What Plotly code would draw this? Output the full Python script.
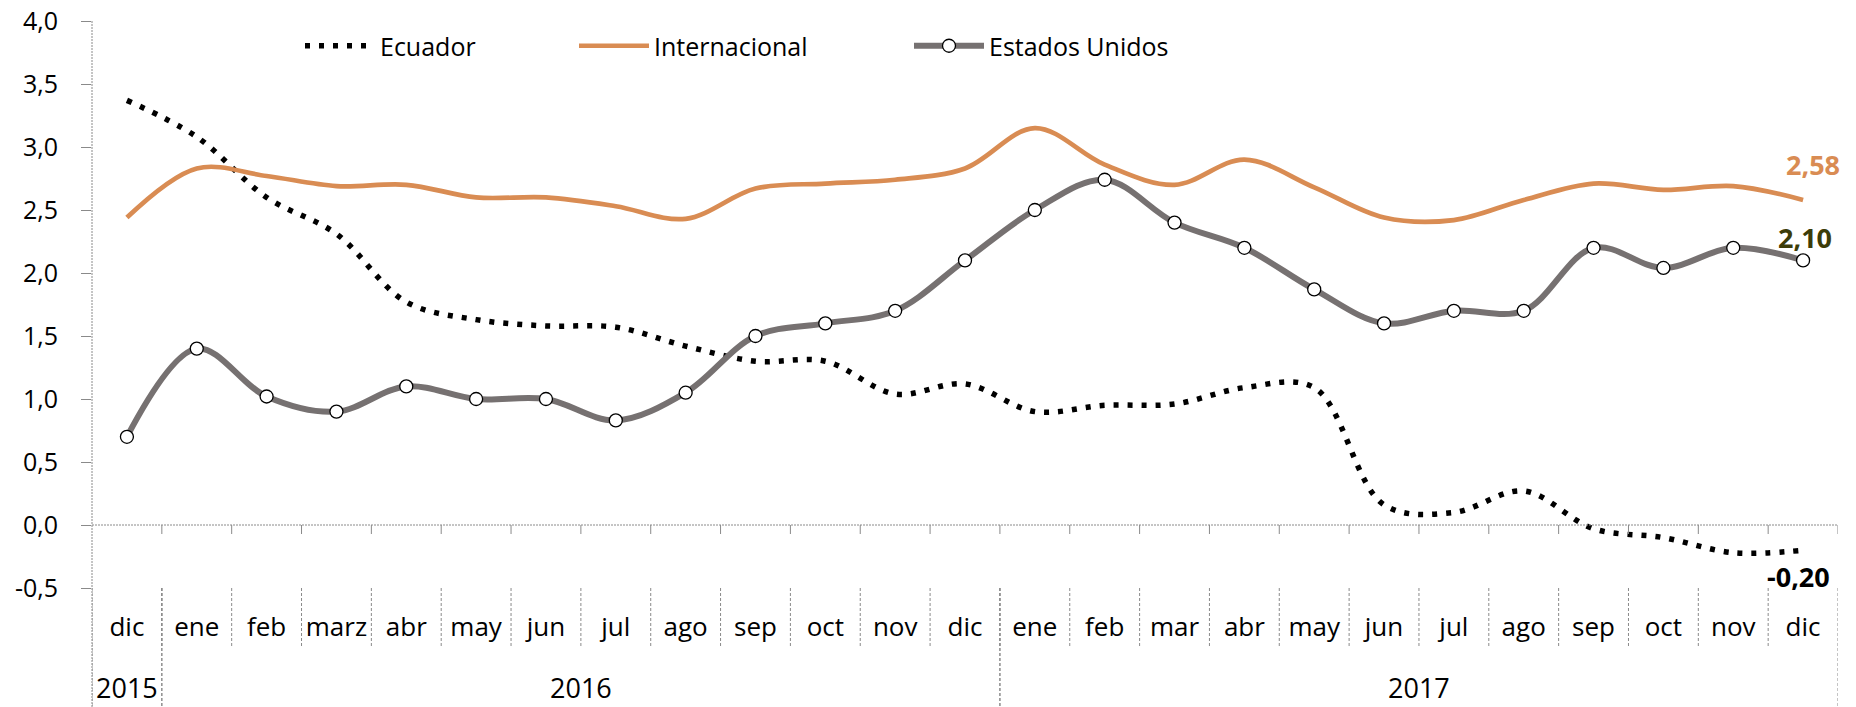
import plotly.graph_objects as go

# ---------------- data ----------------
months = ["dic", "ene", "feb", "marz", "abr", "may", "jun", "jul", "ago", "sep", "oct", "nov", "dic",
          "ene", "feb", "mar", "abr", "may", "jun", "jul", "ago", "sep", "oct", "nov", "dic"]
years = ["2015"] + ["2016"] * 12 + ["2017"] * 12

ecuador = [3.37, 3.08, 2.60, 2.31, 1.77, 1.63, 1.58, 1.57, 1.42, 1.30, 1.30, 1.04, 1.12,
           0.90, 0.95, 0.96, 1.09, 1.09, 0.16, 0.10, 0.27, -0.03, -0.10, -0.22, -0.20]
internacional = [2.44, 2.83, 2.77, 2.69, 2.70, 2.60, 2.60, 2.53, 2.43, 2.67, 2.71, 2.74, 2.83,
                 3.15, 2.86, 2.70, 2.90, 2.68, 2.44, 2.42, 2.58, 2.71, 2.66, 2.69, 2.58]
estados_unidos = [0.70, 1.40, 1.02, 0.90, 1.10, 1.00, 1.00, 0.83, 1.05, 1.50, 1.60, 1.70, 2.10,
                  2.50, 2.74, 2.40, 2.20, 1.87, 1.60, 1.70, 1.70, 2.20, 2.04, 2.20, 2.10]

y_tickvals = [-0.5, 0.0, 0.5, 1.0, 1.5, 2.0, 2.5, 3.0, 3.5, 4.0]
y_ticktext = ["-0,5", "0,0", "0,5", "1,0", "1,5", "2,0", "2,5", "3,0", "3,5", "4,0"]

# ---------------- style ----------------
ORANGE = "#D98C53"
GRAY = "#767171"
OLIVE = "#3C3C08"
AXIS = "#8A8A8A"
FONT = "Open Sans"

W, H = 1856, 707
L, R, T, B = 92, 18, 21, 119
plot_h = H - T - B
plot_w = W - L - R
ITEM_W = 70

n = len(months)
x_idx = list(range(n))


def fmt(v):
    return f"{v:.2f}".replace(".", ",")


fig = go.Figure()
fig.add_trace(go.Scatter(
    x=x_idx, y=ecuador, name="Ecuador", mode="lines", legend="legend",
    line=dict(color="black", width=5.5, dash="5px,9px", shape="spline", smoothing=1)))
fig.add_trace(go.Scatter(
    x=x_idx, y=internacional, name="Internacional", mode="lines", legend="legend2",
    line=dict(color=ORANGE, width=4.7, shape="spline", smoothing=1)))
fig.add_trace(go.Scatter(
    x=x_idx, y=estados_unidos, name="Estados Unidos", mode="lines+markers", legend="legend3",
    line=dict(color=GRAY, width=6, shape="spline", smoothing=1),
    marker=dict(size=13, color="white", line=dict(color="black", width=1.3))))

# ---------------- axis decorations ----------------
shapes = []
dot = "2px,1px"
shapes.append(dict(type="line", xref="paper", yref="paper", x0=0, x1=0, y0=-B / plot_h, y1=1,
                   line=dict(color=AXIS, width=1, dash=dot)))
shapes.append(dict(type="line", xref="paper", yref="y", x0=0, x1=1, y0=0, y1=0,
                   line=dict(color=AXIS, width=1, dash=dot)))
tick_down = 9 / (plot_h / (y_tickvals[-1] - y_tickvals[0]))
for i in range(n):
    b = i + 0.5
    shapes.append(dict(type="line", xref="x", yref="y", x0=b, x1=b, y0=0, y1=-tick_down,
                       line=dict(color=AXIS, width=1)))
for i in range(n - 1):
    b = i + 0.5
    shapes.append(dict(type="line", xref="x", yref="paper", x0=b, x1=b, y0=0, y1=-60 / plot_h,
                       line=dict(color=AXIS, width=1, dash="3px,2px")))
groups = {}
for i, yv in enumerate(years):
    groups.setdefault(yv, []).append(i)
annotations = []
for yv, idxs in groups.items():
    for b in (idxs[0] - 0.5, idxs[-1] + 0.5):
        shapes.append(dict(type="line", xref="x", yref="paper", x0=b, x1=b, y0=0, y1=-B / plot_h,
                           line=dict(color=AXIS, width=1, dash="3px,2px")))
    annotations.append(dict(x=(idxs[0] + idxs[-1]) / 2, y=-99 / plot_h,
                            xref="x", yref="paper", text=yv, showarrow=False,
                            xanchor="center", yanchor="middle",
                            font=dict(family=FONT, size=27, color="black")))

last = n - 1
annotations.append(dict(x=last, y=internacional[last], xref="x", yref="y",
                        text="<b>" + fmt(internacional[last]) + "</b>", showarrow=False,
                        xshift=10, yshift=35, font=dict(family=FONT, size=27, color=ORANGE)))
annotations.append(dict(x=last, y=estados_unidos[last], xref="x", yref="y",
                        text="<b>" + fmt(estados_unidos[last]) + "</b>", showarrow=False,
                        xshift=2, yshift=23, font=dict(family=FONT, size=27, color=OLIVE)))
annotations.append(dict(x=last, y=ecuador[last], xref="x", yref="y",
                        text="<b>" + fmt(ecuador[last]) + "</b>", showarrow=False,
                        xshift=-5, yshift=-26, font=dict(family=FONT, size=27, color="black")))


def leg(text_left_px):
    # legend item text starts about ITEM_W + 11 px after the legend's left edge
    return dict(orientation="h", x=(text_left_px - (ITEM_W + 11) - L) / plot_w,
                xanchor="left", y=1 - 25 / plot_h, yanchor="middle",
                bgcolor="rgba(0,0,0,0)", borderwidth=0, itemwidth=ITEM_W,
                font=dict(family=FONT, size=25, color="black"))


fig.update_layout(
    width=W, height=H,
    margin=dict(l=L, r=R, t=T, b=B, pad=0, autoexpand=False),
    paper_bgcolor="white", plot_bgcolor="white",
    font=dict(family=FONT, size=25, color="black"),
    showlegend=True,
    legend=leg(381), legend2=leg(655), legend3=leg(990),
    xaxis=dict(range=[-0.5, n - 0.5], tickmode="array", tickvals=x_idx, ticktext=months,
               ticks="", showgrid=False, zeroline=False, showline=False, automargin=False,
               ticklabelstandoff=21, tickfont=dict(family=FONT, size=26, color="black"),
               fixedrange=True),
    yaxis=dict(range=[y_tickvals[0], y_tickvals[-1]], tickmode="array",
               tickvals=y_tickvals, ticktext=y_ticktext, ticklabeloverflow="allow",
               ticks="outside", ticklen=10, tickcolor=AXIS, tickwidth=1, automargin=False,
               showgrid=False, zeroline=False, showline=False,
               ticklabelstandoff=18, tickfont=dict(family=FONT, size=25, color="black"),
               fixedrange=True),
    shapes=shapes,
    annotations=annotations,
)

fig.write_html("out.html", config={"displayModeBar": False},
               post_script="document.body.style.margin='0';")
